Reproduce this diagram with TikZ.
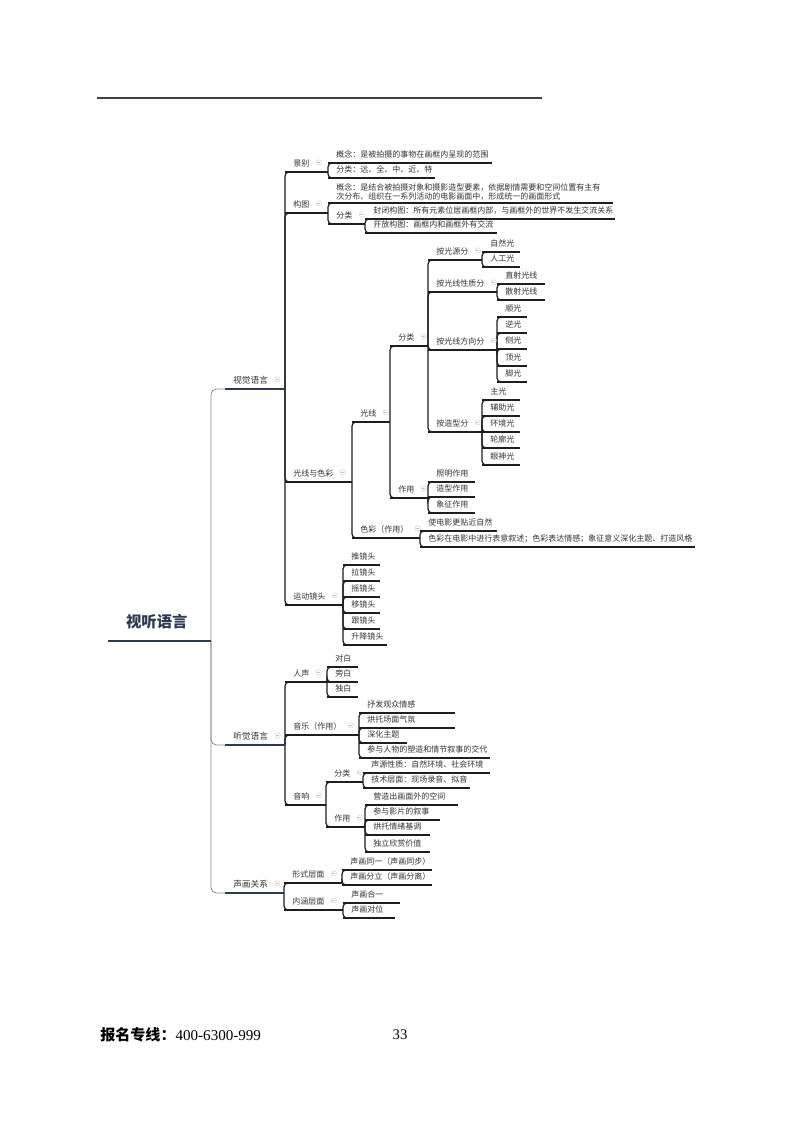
\documentclass[tikz,border=0pt]{standalone}
\usepackage{fontspec}
\setmainfont{Noto Sans CJK SC}
\newfontfamily\serfont{Liberation Serif}
\usetikzlibrary{backgrounds}
\definecolor{linecol}{HTML}{1E1E1E}
\definecolor{navy}{HTML}{2E3A4F}
\definecolor{txtcol}{HTML}{333333}
\definecolor{rconcol}{HTML}{8A8A8A}
\tikzset{
  mmtxt/.style={anchor=south west, inner xsep=6pt, inner ysep=2pt, text=txtcol, font=\fontsize{6}{6.75}\selectfont},
  mmleaf/.style={mmtxt, text height=0.8em, text depth=0.2em},
  mmlone/.style={mmleaf, font=\fontsize{6.5}{7}\selectfont, inner xsep=6pt},
  mmml/.style={mmtxt, align=left},
  mmroot/.style={anchor=south west, inner sep=0pt, minimum width=72.75pt, minimum height=28.5pt, text=navy, font=\bfseries\fontsize{11.5}{12}\selectfont},
  ul/mmleaf/.style={line width=0.9pt, draw=linecol},
  ul/mmml/.style={line width=0.9pt, draw=linecol},
  ul/mmlone/.style={line width=1.6pt, draw=navy},
  ul/mmroot/.style={line width=1.6pt, draw=navy},
  conn/.style={line width=0.9pt, draw=linecol, rounded corners=3pt},
  rconn/.style={line width=0.6pt, draw=rconcol, rounded corners=4pt},
  foldic/.style={circle, draw=gray!40, line width=0.3pt, minimum size=4pt, inner sep=0pt,
    path picture={\draw[gray!45, line width=0.3pt] ([xshift=-1.1pt]path picture bounding box.center) -- ([xshift=1.1pt]path picture bounding box.center);}}
}
\newcommand\mm[6][mmleaf]{%
  \node[#1] (#2) at (#3,#5) {#6};
  \coordinate (#2-e) at (#4,#5);
  \draw[ul/#1] (#2.south west) -- (#2-e);}
\newcommand\cn[3][conn]{\draw[#1] (#2-e) |- ([xshift=3pt]#3.south west);}
\newcommand\fd[1]{\node[foldic] (#1-f) at ([xshift=1pt]#1.east) {};}
\begin{document}
\begin{tikzpicture}[x=0.75pt,y=-0.75pt]
\useasboundingbox (0,0) rectangle (800,1124);
% header rule
\draw[line width=1.2pt, black!75] (97,98) -- (542,98);
% root and level 1
\mm[mmroot]{R}{108}{211}{641}{视听语言}
\mm[mmlone]{V}{225}{285}{389}{视觉语言}
\mm[mmlone]{A}{225}{285}{745}{听觉语言}
\mm[mmlone]{S}{225}{284}{893}{声画关系}
% visual language
\mm{JB}{285}{328}{172}{景别}
\mm{GT}{285}{328}{213}{构图}
\mm{GS}{285}{352}{482}{光线与色彩}
\mm{YD}{285}{343}{605}{运动镜头}
\mm{JB1}{328}{492}{163}{概念：是被拍摄的事物在画框内呈现的范围}
\mm{JB2}{328}{435}{178}{分类：远、全、中、近、特}
\mm[mmml]{GT1}{328}{613}{203}{概念：是结合被拍摄对象和摄影造型要素，依据剧情需要和空间位置有主有\\次分布、组织在一系列活动的电影画面中，形成统一的画面形式}
\mm{GT2}{328}{365}{224}{分类}
\mm{GT21}{365}{615}{219}{封闭构图：所有元素位居画框内部，与画框外的世界不发生交流关系}
\mm{GT22}{365}{497}{233}{开放构图：画框内和画框外有交流}
\mm{GX}{352}{390}{422}{光线}
\mm{SC}{352}{420}{538}{色彩（作用）}
\mm{FL}{390}{428}{346}{分类}
\mm{ZY}{390}{428}{498}{作用}
\mm{F1}{428}{482}{260}{按光源分}
\mm{F2}{428}{497}{292}{按光线性质分}
\mm{F3}{428}{497}{350}{按光线方向分}
\mm{F4}{428}{482}{432}{按造型分}
\mm{F11}{482}{520}{252}{自然光}
\mm{F12}{482}{520}{267}{人工光}
\mm{F21}{497}{545}{284}{直射光线}
\mm{F22}{497}{545}{300}{散射光线}
\mm{F31}{497}{527}{317}{顺光}
\mm{F32}{497}{527}{333}{逆光}
\mm{F33}{497}{527}{349}{侧光}
\mm{F34}{497}{527}{366}{顶光}
\mm{F35}{497}{527}{382}{脚光}
\mm{F41}{482}{520}{400}{主光}
\mm{F42}{482}{520}{416}{辅助光}
\mm{F43}{482}{520}{432}{环境光}
\mm{F44}{482}{520}{448}{轮廓光}
\mm{F45}{482}{520}{465}{眼神光}
\mm{Z1}{428}{475}{482}{照明作用}
\mm{Z2}{428}{475}{497}{造型作用}
\mm{Z3}{428}{475}{513}{象征作用}
\mm{C1}{420}{497}{531}{使电影更贴近自然}
\mm{C2}{420}{695}{547}{色彩在电影中进行表意叙述；色彩表达情感；象征意义深化主题、打造风格}
\mm{D1}{343}{380}{565}{推镜头}
\mm{D2}{343}{380}{581}{拉镜头}
\mm{D3}{343}{380}{597}{摇镜头}
\mm{D4}{343}{380}{613}{移镜头}
\mm{D5}{343}{380}{629}{跟镜头}
\mm{D6}{343}{387}{645}{升降镜头}
% auditory language
\mm{RS}{285}{327}{682}{人声}
\mm{YY}{285}{359}{735}{音乐（作用）}
\mm{YX}{285}{326}{805}{音响}
\mm{RS1}{327}{358}{667}{对白}
\mm{RS2}{327}{358}{682}{旁白}
\mm{RS3}{327}{358}{697}{独白}
\mm{Y1}{359}{455}{713}{抒发观众情感}
\mm{Y2}{359}{455}{728}{烘托场面气氛}
\mm{Y3}{359}{407}{743}{深化主题}
\mm{Y4}{359}{490}{758}{参与人物的塑造和情节叙事的交代}
\mm{YXF}{326}{363}{782}{分类}
\mm{YXZ}{326}{365}{827}{作用}
\mm{YF1}{363}{490}{773}{声源性质：自然环境、社会环境}
\mm{YF2}{363}{470}{788}{技术层面：现场录音、拟音}
\mm{YZ1}{365}{458}{805}{营造出画面外的空间}
\mm{YZ2}{365}{440}{820}{参与影片的叙事}
\mm{YZ3}{365}{430}{835}{烘托情绪基调}
\mm{YZ4}{365}{430}{852}{独立欣赏价值}
% sound-picture relation
\mm{XS}{284}{342}{883}{形式层面}
\mm{NH}{284}{343}{910}{内涵层面}
\mm{XS1}{342}{432}{870}{声画同一（声画同步）}
\mm{XS2}{342}{432}{885}{声画分立（声画分离）}
\mm{NH1}{343}{400}{903}{声画合一}
\mm{NH2}{343}{395}{918}{声画对位}
% fold icons
\foreach \n in {V,JB,GT,GT2,GS,GX,FL,F1,F2,F3,F4,ZY,SC,YD,A,RS,YY,YX,YXF,YXZ,S,XS,NH} {\fd{\n}}
% connectors
\begin{pgfonlayer}{background}
\fill[white] (0,0) rectangle (800,1124);
\foreach \c in {V,A,S} {\cn[rconn]{R}{\c}}
\foreach \p/\c in {V/JB,V/GT,V/GS,V/YD,JB/JB1,JB/JB2,GT/GT1,GT/GT2,GT2/GT21,GT2/GT22,
  GS/GX,GS/SC,GX/FL,GX/ZY,FL/F1,FL/F2,FL/F3,FL/F4,F1/F11,F1/F12,F2/F21,F2/F22,
  F3/F31,F3/F32,F3/F33,F3/F34,F3/F35,F4/F41,F4/F42,F4/F43,F4/F44,F4/F45,
  ZY/Z1,ZY/Z2,ZY/Z3,SC/C1,SC/C2,YD/D1,YD/D2,YD/D3,YD/D4,YD/D5,YD/D6,
  A/RS,A/YY,A/YX,RS/RS1,RS/RS2,RS/RS3,YY/Y1,YY/Y2,YY/Y3,YY/Y4,YX/YXF,YX/YXZ,
  YXF/YF1,YXF/YF2,YXZ/YZ1,YXZ/YZ2,YXZ/YZ3,YXZ/YZ4,S/XS,S/NH,XS/XS1,XS/XS2,NH/NH1,NH/NH2}
  {\cn{\p}{\c}}
\end{pgfonlayer}
% footer
\node[anchor=west, inner sep=0pt, text=black, font=\fontsize{11.3}{13}\selectfont] (ft) at (100,1035) {{\bfseries 报名专线：}{\serfont 400-6300-999}};
\node[inner sep=0pt, text=black, font=\serfont\fontsize{11}{13}\selectfont] (pg) at (400,1035) {33};
\end{tikzpicture}
\end{document}
